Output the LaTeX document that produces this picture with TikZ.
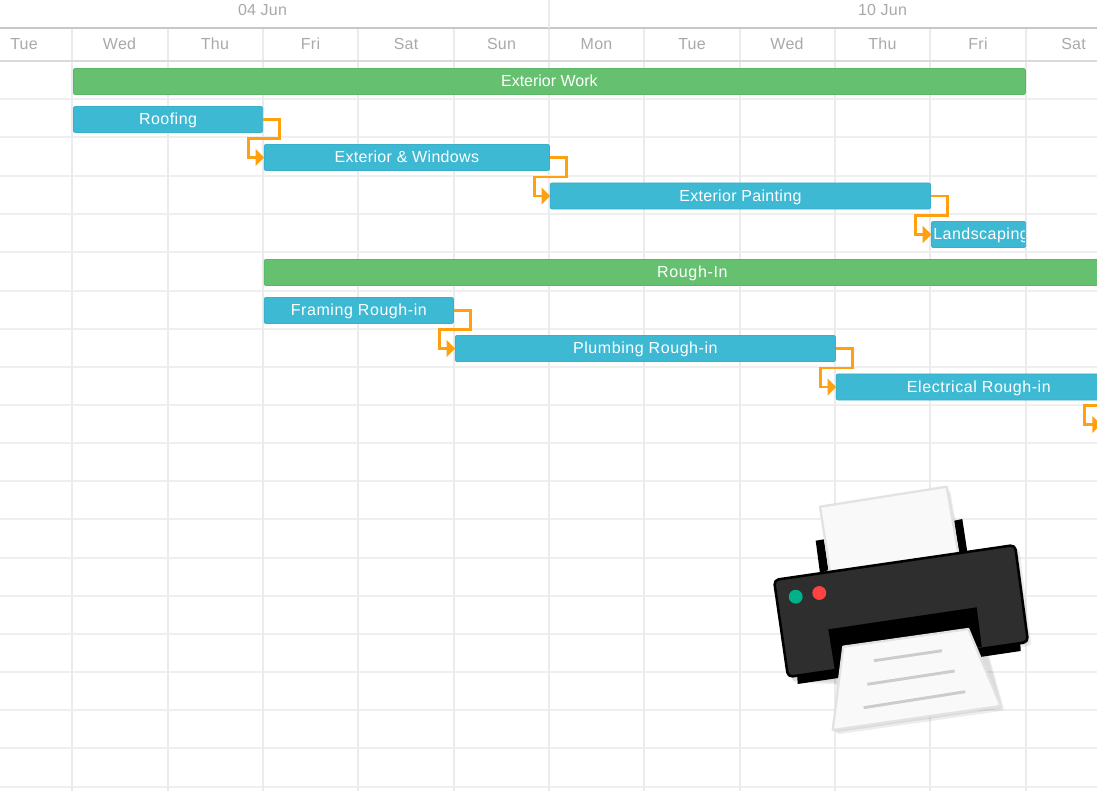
\documentclass[tikz,border=0pt]{standalone}
\usepackage{fontspec}
\setmainfont{Liberation Sans}
\usetikzlibrary{arrows.meta,calc}
\definecolor{taskfill}{HTML}{3DB9D3}
\definecolor{taskline}{HTML}{39AFC8}
\definecolor{groupfill}{HTML}{65C16F}
\definecolor{groupline}{HTML}{5AB565}
\definecolor{deporange}{HTML}{FFA011}
\definecolor{headtext}{HTML}{A9A9A9}
\definecolor{gridv}{HTML}{EBEBEB}
\definecolor{gridh}{HTML}{EFEFEF}
\definecolor{papergrey}{HTML}{E2E2E2}
\definecolor{paperfill}{HTML}{F9F9F9}
\definecolor{ledgreen}{HTML}{00B18A}
\definecolor{ledred}{HTML}{FF4343}
\tikzset{
  x=0.75pt,y=-0.75pt,
  barbase/.style={rounded corners=1.5pt,line width=0.6pt,minimum height=19.6pt,inner sep=0pt,outer sep=0pt,text=white,text height=10.6pt,text depth=2.4pt,font=\fontsize{12}{14}\selectfont\addfontfeature{LetterSpace=#1},anchor=west},
  taskbar/.style={barbase=#1,fill=taskfill,draw=taskline},
  groupbar/.style={barbase=#1,fill=groupfill,draw=groupline},
  hdr/.style={text=headtext,font=\fontsize{12}{14}\selectfont\addfontfeature{LetterSpace=1.5},inner sep=0pt,text height=10pt,text depth=2.4pt},
  dep/.style={draw=deporange,line width=2.1pt,-{Triangle[length=6.5pt,width=12.5pt]}},
  vline/.style={draw=gridv,line width=1.5pt},
  hline/.style={draw=gridh,line width=1.2pt},
  sheet/.style={fill=paperfill,draw=papergrey,line width=1.7pt,line join=round},
  sheetline/.style={draw=black!20,line width=2.2pt},
  shade/.style={fill=black,opacity=0.07,draw=none,rounded corners=2pt}
}
\begin{document}
\begin{tikzpicture}
\useasboundingbox (0,0) rectangle (1097,791);
\clip (0,0) rectangle (1097,791);
\fill[white] (0,0) rectangle (1097,791);
% grid
\foreach \y in {99,137,176,214,252,291,329,367,405,443,481,519,558,596,634,672,710,748,787}
  \draw[hline] (0,\y) -- (1097,\y);
\foreach \x in {72,168,263,358,454,549,644,740,835,930,1026}
  \draw[vline] (\x,28) -- (\x,791);
\draw[draw=black!22,line width=1.5pt] (0,28) -- (1097,28);
\draw[draw=black!15,line width=1.2pt] (0,61) -- (1097,61);
\draw[vline] (549,0) -- (549,28);
% header
\node[hdr,name=wk1] at (262.5,10.5) {04 Jun};
\node[hdr,name=wk2] at (882.5,10.5) {10 Jun};
\foreach \x/\d/\n in {24/Tue/a,119.5/Wed/b,215/Thu/c,310.5/Fri/d,406/Sat/e,501.5/Sun/f,596.5/Mon/g,692/Tue/h,787/Wed/i,882.5/Thu/j,978/Fri/k,1073.5/Sat/l}
  \node[hdr,name=day\n] at (\x,44.5) {\d};
% bars
\node[groupbar=0,minimum width=714pt,name=extwork] at (73.4,81.5) {Exterior Work};
\node[taskbar=3,minimum width=142pt,name=roof] at (73.4,119.5) {Roofing};
\node[taskbar=2,minimum width=214pt,name=extwin] at (264.2,157.5) {Exterior \& Windows};
\node[taskbar=2,minimum width=285.25pt,name=extpaint] at (550.2,196) {Exterior Painting};
\node[taskbar=0,minimum width=70.75pt,name=land] at (931.4,234.5) {};
\begin{scope}
  \clip (932,220) rectangle (1024.5,248);
  \node[anchor=west,inner sep=0pt,text=white,text height=10.6pt,text depth=2.4pt,font=\fontsize{12}{14}\selectfont\addfontfeature{LetterSpace=3},name=landtext] at (933,234.5) {Landscaping};
\end{scope}
\node[groupbar=4,minimum width=642.25pt,name=rough] at (264.2,272.5) {Rough-In};
\node[taskbar=3.5,minimum width=142pt,name=frame] at (264.2,310.5) {Framing Rough-in};
\node[taskbar=3.5,minimum width=285.25pt,name=plumb] at (455.2,348.5) {Plumbing Rough-in};
\node[taskbar=3.5,minimum width=214pt,name=elec] at (836.2,387) {Electrical Rough-in};
% connectors
\foreach \a/\b in {roof/extwin,extwin/extpaint,extpaint/land,frame/plumb,plumb/elec}
  \draw[dep] (\a.east) -- ++(17,0) |- ($(\b.west)+(-16,-19)$) |- (\b.west);
\coordinate (offl) at (1101,424.5);
\draw[dep] (1097,405.5) -- (1084.5,405.5) |- (offl);
% printer shadow
\foreach \o in {1.5,3.5}
  \fill[shade,shift={(\o,\o)}] (775,581) -- (1016,546) -- (1028,642) -- (985,650) -- (1001,707) -- (833,731) -- (835,681) -- (790,679) -- cycle;
\foreach \o in {1.5,3}
  \fill[shade,shift={(\o,\o)}] (820,507) -- (947,487) -- (958,548) -- (830,568) -- cycle;
% printer back
\fill[black] (815.7,540.7) -- (824,539.3) -- (828.3,570) -- (820,573.3) -- cycle;
\fill[black] (954.3,520.7) -- (962.3,519) -- (967.3,551.7) -- (959,553.3) -- cycle;
\draw[sheet] (820,506.7) -- (946.7,486.7) -- (958.3,553.3) -- (830,571.7) -- cycle;
% slab under body
\fill[black] (797,672) -- (797.7,684) -- (1020.7,651) -- (1020,638) -- cycle;
% body
\draw[fill=black!82,draw=black,line width=1.9pt,rounded corners=3.5pt,line join=round] (774,580) -- (1015,545) -- (1028,642) -- (788,677) -- cycle;
\fill[black] (828.3,629.3) -- (976.7,607.3) -- (981.7,646.7) -- (835,671) -- cycle;
% LEDs
\fill[ledgreen] (795.7,596.7) circle[radius=5.2pt];
\fill[ledred] (819.3,593) circle[radius=5.2pt];
% output paper
\draw[sheet] (843.3,646.7) -- (968.3,629) -- (1000.7,706) -- (832.7,730) -- cycle;
\draw[sheetline] (874,660.7) -- (942,650.7);
\draw[sheetline] (867.3,684.3) -- (954.7,671);
\draw[sheetline] (863.7,707.7) -- (965.3,691.7);
\end{tikzpicture}
\end{document}
